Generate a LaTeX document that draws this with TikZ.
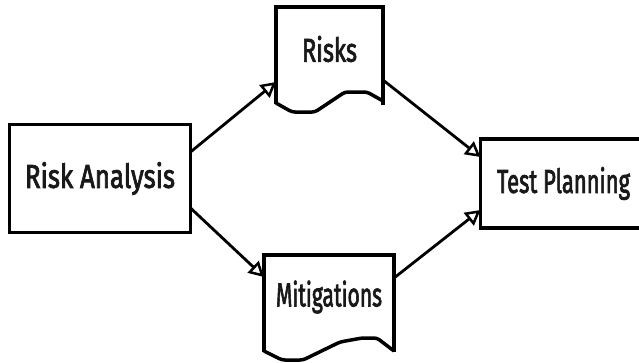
\documentclass[tikz,border=0pt]{standalone}
\usepackage{fontspec}
\usepackage{graphicx}
\newfontfamily\labfont[FakeBold=2.6]{Fira Sans}
\usetikzlibrary{arrows.meta}
\newcommand\fitlab[2]{\resizebox{#1}{\height}{#2}}
\tikzset{
  box/.style={draw=black, line width=3.5pt, rectangle, inner sep=0pt, outer sep=0pt, fill=white},
  docnode/.style={rectangle, inner sep=0pt, outer sep=0pt},
  docline/.style={draw=black, line width=3.5pt, line join=miter},
  lab/.style={font=\labfont\fontsize{33}{36}\selectfont, text=black!90},
  flow/.style={draw=black, line width=2.8pt, -{Triangle[open, length=15pt, width=16pt, line width=2.5pt]}},
}
\begin{document}
\begin{tikzpicture}[x=1pt, y=-1pt]
\useasboundingbox (0,0) rectangle (639,362);
\clip (0,0) rectangle (639,362);
\fill[white] (0,0) rectangle (639,362);

% Risk Analysis
\node[box, lab, minimum width=181pt, minimum height=108pt] (ra) at (100,178.5) {\fitlab{150pt}{Risk Analysis}};

% Test Planning (cut off at right edge)
\node[box, lab, minimum width=168pt, minimum height=89pt] (tp) at (564.5,183.5) {\hspace*{-2pt}\fitlab{133pt}{Test Planning}};

% Risks document
\node[docnode, lab, minimum width=107pt, minimum height=84pt] (risks) at (329.5,49) {\fitlab{55pt}{Risks}};
\draw[docline] (276,104) -- (risks.north west) -- (risks.north east) -- (383,105);
\draw[docline, rounded corners=3pt] (276,103) -- (292,112) -- (315,112) -- (345,92) -- (367,92) -- (383,101);

% Mitigations document
\node[docnode, lab, minimum width=130pt, minimum height=84pt] (mit) at (329,297) {\fitlab{106pt}{Mitigations}};
\draw[docline] (264,352) -- (mit.north west) -- (mit.north east) -- (394,352);
\draw[docline, rounded corners=3pt] (264,351) -- (282,360) -- (303,360) -- (340,342) -- (362,338) -- (377,338) -- (394,351);

% connectors
\draw[flow] ([yshift=26.5pt]ra.east) -- ([yshift=-33pt]risks.west);
\draw[flow] ([yshift=-29.5pt]ra.east) -- ([yshift=20pt]mit.west);
\draw[flow] ([yshift=-31pt]risks.east) -- ([yshift=26.5pt]tp.west);
\draw[flow] ([yshift=19pt]mit.east) -- ([yshift=-26.5pt]tp.west);
\end{tikzpicture}
\end{document}
